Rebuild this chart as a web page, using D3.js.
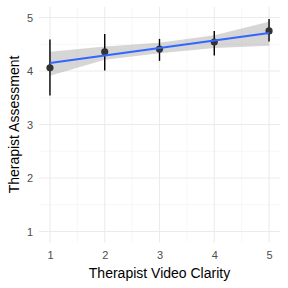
<!DOCTYPE html>
<html><head><meta charset="utf-8">
<script src="https://cdn.jsdelivr.net/npm/d3@7"></script>
<style>body{margin:0;background:#fff}svg{display:block}</style>
</head><body><div id="c"></div>
<script>
const clarity = [1, 2, 3, 4, 5];
const meanScore = [4.06, 4.36, 4.41, 4.54, 4.75];
const errLow = [3.54, 4.01, 4.19, 4.29, 4.55];
const errHigh = [4.59, 4.69, 4.60, 4.75, 4.97];
const fitValues = [4.15, 4.29, 4.43, 4.57, 4.71];
const bandLow = [3.91, 4.21, 4.33, 4.43, 4.47];
const bandHigh = [4.36, 4.46, 4.53, 4.67, 4.92];
const xTicks = [1, 2, 3, 4, 5];
const yTicks = [1, 2, 3, 4, 5];

const W = 288, H = 288;
const svg = d3.select("#c").append("svg").attr("width", W).attr("height", H);
const x = d3.scaleLinear().domain([0.8, 5.2]).range([39, 280]);
const y = d3.scaleLinear().domain([0.8, 5.2]).range([242.2, 6.8]);

const minorX = [1.5, 2.5, 3.5, 4.5];
const minorY = [1.5, 2.5, 3.5, 4.5];
const g = svg.append("g");
g.selectAll(".mx").data(minorX).join("line")
  .attr("x1", d => x(d)).attr("x2", d => x(d)).attr("y1", y(0.8)).attr("y2", y(5.2))
  .attr("stroke", "#f2f2f2").attr("stroke-width", 0.6);
g.selectAll(".my").data(minorY).join("line")
  .attr("y1", d => y(d)).attr("y2", d => y(d)).attr("x1", x(0.8)).attr("x2", x(5.2))
  .attr("stroke", "#f2f2f2").attr("stroke-width", 0.6);
g.selectAll(".gx").data(xTicks).join("line")
  .attr("x1", d => x(d)).attr("x2", d => x(d)).attr("y1", y(0.8)).attr("y2", y(5.2))
  .attr("stroke", "#ebebeb").attr("stroke-width", 1.1);
g.selectAll(".gy").data(yTicks).join("line")
  .attr("y1", d => y(d)).attr("y2", d => y(d)).attr("x1", x(0.8)).attr("x2", x(5.2))
  .attr("stroke", "#ebebeb").attr("stroke-width", 1.1);

const idx = d3.range(clarity.length);
// confidence band
svg.append("path")
  .attr("d", d3.area().x(i => x(clarity[i])).y0(i => y(bandLow[i])).y1(i => y(bandHigh[i]))(idx))
  .attr("fill", "#999999").attr("fill-opacity", 0.4);
// error bars
svg.selectAll(".eb").data(idx).join("line")
  .attr("x1", i => x(clarity[i])).attr("x2", i => x(clarity[i]))
  .attr("y1", i => y(errLow[i])).attr("y2", i => y(errHigh[i]))
  .attr("stroke", "#000").attr("stroke-width", 1.4);
// points
svg.selectAll(".pt").data(idx).join("circle")
  .attr("cx", i => x(clarity[i])).attr("cy", i => y(meanScore[i])).attr("r", 3.6)
  .attr("fill", "#333333");
// fit line
svg.append("path")
  .attr("d", d3.line().x(i => x(clarity[i])).y(i => y(fitValues[i]))(idx))
  .attr("fill", "none").attr("stroke", "#3366FF").attr("stroke-width", 2);

// axes
const xAxis = svg.append("g").attr("transform", `translate(0,${y(0.8)})`)
  .call(d3.axisBottom(x).tickValues(xTicks).tickFormat(d3.format("d")).tickSize(0).tickPadding(9));
xAxis.select(".domain").remove();
xAxis.selectAll("text").attr("fill", "#4d4d4d").attr("font-size", 11).attr("font-family", "Liberation Sans, Arial, sans-serif");
const yAxis = svg.append("g").attr("transform", `translate(${x(0.8)},0)`)
  .call(d3.axisLeft(y).tickValues(yTicks).tickFormat(d3.format("d")).tickSize(0).tickPadding(6));
yAxis.select(".domain").remove();
yAxis.selectAll("text").attr("fill", "#4d4d4d").attr("font-size", 11).attr("font-family", "Liberation Sans, Arial, sans-serif");

svg.append("text").attr("x", (x(0.8) + x(5.2)) / 2).attr("y", 278)
  .attr("text-anchor", "middle").attr("font-size", 14).attr("fill", "#000")
  .attr("font-family", "Liberation Sans, Arial, sans-serif").text("Therapist Video Clarity");
svg.append("text").attr("transform", `translate(19,${(y(0.8) + y(5.2)) / 2}) rotate(-90)`)
  .attr("text-anchor", "middle").attr("font-size", 14).attr("fill", "#000")
  .attr("font-family", "Liberation Sans, Arial, sans-serif").text("Therapist Assessment");
</script></body></html>
